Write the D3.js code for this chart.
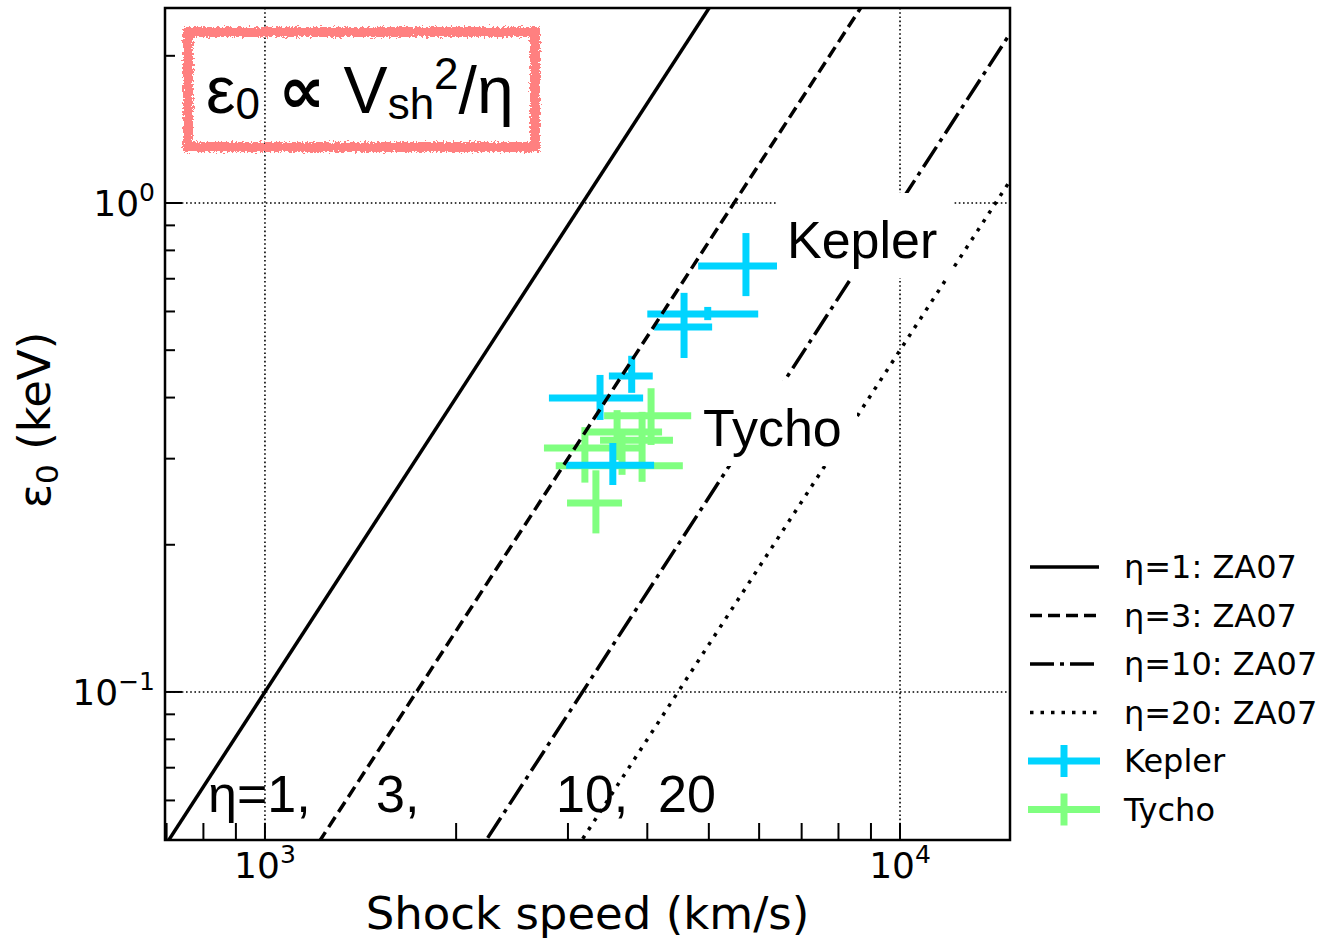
<!DOCTYPE html>
<html><head><meta charset="utf-8">
<script src="https://cdn.jsdelivr.net/npm/d3@7"></script>
<style>body{margin:0;background:#fff}</style>
</head><body><svg id="c" width="1321" height="940"></svg>
<script>
// ---------- data ----------
const etaValues = [1, 3, 10, 20];
const etaLabels = ["η=1: ZA07", "η=3: ZA07", "η=10: ZA07", "η=20: ZA07"];
const eps0At1000 = 0.1;            // keV at V=1000 km/s for eta=1 (ZA07 scaling)
const lineV = [500, 20000];        // line sampling range (km/s)

const keplerV   = [5720, 4570, 4980, 3780, 3370, 3530];
const keplerVlo = [4810, 4100, 4000, 3480, 2800, 2980];
const keplerVhi = [6430, 5060, 5980, 4080, 3940, 4100];
const keplerE   = [0.743, 0.558, 0.593, 0.443, 0.399, 0.291];
const keplerElo = [0.645, 0.482, 0.576, 0.409, 0.360, 0.265];
const keplerEhi = [0.868, 0.655, 0.613, 0.487, 0.445, 0.323];

const tychoV   = [3320, 3190, 3650, 4055, 3585, 3925];
const tychoVlo = [2990, 2750, 2870, 3420, 3215, 3370];
const tychoVhi = [3650, 3900, 4550, 4690, 4220, 4390];
const tychoE   = [0.2435, 0.3155, 0.290, 0.367, 0.340, 0.327];
const tychoElo = [0.211, 0.268, 0.278, 0.320, 0.298, 0.269];
const tychoEhi = [0.284, 0.348, 0.343, 0.418, 0.377, 0.374];

const xDomain = [696, 14900];
const yDomain = [0.0498, 2.505];
const xMajor = [1000, 10000];
const xMajorLabels = [["10","3"],["10","4"]];
const yMajor = [1, 0.1];
const yMajorLabels = [["10","0"],["10","−1"]];
const xMinor = [700,800,900,2000,3000,4000,5000,6000,7000,8000,9000];
const yMinor = [0.06,0.07,0.08,0.09,0.2,0.3,0.4,0.5,0.6,0.7,0.8,0.9,2];

// ---------- styles ----------
const dashes = ["none", "12,6", "24,6,4,6", "3.5,7"];
const cKepler = "#00d4ff", cTycho = "#80ff80";
const M = {l:165, r:1010, t:8, b:840};

const svg = d3.select("#c");
const x = d3.scaleLog().domain(xDomain).range([M.l, M.r]);
const y = d3.scaleLog().domain(yDomain).range([M.b, M.t]);

svg.append("defs").html(`
 <clipPath id="clip"><rect x="${M.l}" y="${M.t}" width="${M.r-M.l}" height="${M.b-M.t}"/></clipPath>
 <filter id="rough" x="-5%" y="-10%" width="110%" height="120%">
   <feTurbulence type="fractalNoise" baseFrequency="0.45" numOctaves="2" seed="3" result="n"/>
   <feDisplacementMap in="SourceGraphic" in2="n" scale="7" xChannelSelector="R" yChannelSelector="G"/>
 </filter>`);

// grid
const g = svg.append("g");
xMajor.forEach(v => g.append("line").attr("x1",x(v)).attr("x2",x(v)).attr("y1",M.t).attr("y2",M.b)
  .attr("stroke","#000").attr("stroke-width",1.6).attr("stroke-dasharray","1.6,2.6"));
yMajor.forEach(v => g.append("line").attr("y1",y(v)).attr("y2",y(v)).attr("x1",M.l).attr("x2",M.r)
  .attr("stroke","#000").attr("stroke-width",1.6).attr("stroke-dasharray","1.6,2.6"));

// error bars
function errbars(V, Vlo, Vhi, E, Elo, Ehi, color) {
  const gg = svg.append("g").attr("clip-path","url(#clip)").attr("stroke",color).attr("stroke-width",7);
  V.forEach((v,i) => {
    gg.append("line").attr("x1",x(Vlo[i])).attr("x2",x(Vhi[i])).attr("y1",y(E[i])).attr("y2",y(E[i]));
    gg.append("line").attr("x1",x(v)).attr("x2",x(v)).attr("y1",y(Elo[i])).attr("y2",y(Ehi[i]));
  });
}
errbars(tychoV, tychoVlo, tychoVhi, tychoE, tychoElo, tychoEhi, cTycho);
errbars(keplerV, keplerVlo, keplerVhi, keplerE, keplerElo, keplerEhi, cKepler);

// model lines
const lg = svg.append("g").attr("clip-path","url(#clip)");
etaValues.forEach((eta,i) => {
  const f = v => eps0At1000 * (v/1000)*(v/1000) / eta;
  lg.append("line").attr("x1",x(lineV[0])).attr("y1",y(f(lineV[0])))
    .attr("x2",x(lineV[1])).attr("y2",y(f(lineV[1])))
    .attr("stroke","#000").attr("stroke-width",3.5).attr("stroke-dasharray",dashes[i]);
});

// labelled boxes
function boxLabel(txt, xl, yb, w) {
  const gg = svg.append("g");
  gg.append("rect").attr("x",xl-10).attr("y",yb-65).attr("width",w).attr("height",85).attr("fill","#fff");
  gg.append("text").attr("x",xl).attr("y",yb).attr("font-family","Liberation Sans, Arial, sans-serif")
    .attr("font-size",52).text(txt);
}
boxLabel("Kepler", 787, 258, 175);
boxLabel("Tycho", 703, 446, 164);

// eta labels along bottom
const etaText = [["η=1,",208],["3,",376],["10,",556],["20",658]];
etaText.forEach(([t,px]) => svg.append("text").attr("x",px).attr("y",812)
  .attr("font-family","Liberation Sans, Arial, sans-serif").attr("font-size",52).text(t));

// formula box
svg.append("rect").attr("x",188).attr("y",32).attr("width",347).attr("height",115)
  .attr("fill","none").attr("stroke","#ff8080").attr("stroke-width",10).attr("filter","url(#rough)");
const ft = svg.append("text").attr("x",206).attr("y",113)
  .attr("font-family","Liberation Sans, Arial, sans-serif").attr("font-size",66);
ft.append("tspan").text("ε");
ft.append("tspan").attr("font-size",44).attr("dy",6).text("0");
ft.append("tspan").attr("dy",-6).text(" ");
ft.append("tspan").attr("font-family","Noto Sans, DejaVu Sans, sans-serif").attr("font-weight","bold").text("∝");
ft.append("tspan").text(" V");
ft.append("tspan").attr("font-size",44).attr("dy",6).text("sh");
ft.append("tspan").attr("font-size",44).attr("dy",-30).text("2");
ft.append("tspan").attr("dy",24).text("/η");

// spines
svg.append("rect").attr("x",M.l).attr("y",M.t).attr("width",M.r-M.l).attr("height",M.b-M.t)
  .attr("fill","none").attr("stroke","#000").attr("stroke-width",2.5);

// ticks
const tk = svg.append("g").attr("stroke","#000").attr("stroke-width",2);
xMajor.concat(xMinor).forEach(v => tk.append("line").attr("x1",x(v)).attr("x2",x(v)).attr("y1",M.b).attr("y2",M.b-17));
yMajor.forEach(v => tk.append("line").attr("y1",y(v)).attr("y2",y(v)).attr("x1",M.l).attr("x2",M.l+17));
yMinor.forEach(v => tk.append("line").attr("y1",y(v)).attr("y2",y(v)).attr("x1",M.l).attr("x2",M.l+10));

const font = "DejaVu Sans, sans-serif";
xMajor.forEach((v,i) => {
  const t = svg.append("text").attr("x",x(v)).attr("y",878).attr("text-anchor","middle")
    .attr("font-family",font).attr("font-size",36);
  t.append("tspan").text(xMajorLabels[i][0]);
  t.append("tspan").attr("font-size",25).attr("dy",-15).text(xMajorLabels[i][1]);
});
yMajor.forEach((v,i) => {
  const t = svg.append("text").attr("x",155).attr("y",y(v)+13).attr("text-anchor","end")
    .attr("font-family",font).attr("font-size",36);
  t.append("tspan").text(yMajorLabels[i][0]);
  t.append("tspan").attr("font-size",25).attr("dy",-15).text(yMajorLabels[i][1]);
});

// axis labels
svg.append("text").attr("x",(M.l+M.r)/2).attr("y",929).attr("text-anchor","middle")
  .attr("font-family",font).attr("font-size",45).text("Shock speed (km/s)");
const yl = svg.append("text").attr("transform",`translate(50,${(M.t+M.b)/2 - 4}) rotate(-90)`)
  .attr("text-anchor","middle").attr("font-family",font).attr("font-size",45);
yl.append("tspan").text("ε");
yl.append("tspan").attr("font-size",31).attr("dy",8).text("0");
yl.append("tspan").attr("dy",-8).text(" (keV)");

// legend
const legY0 = 567, legDy = 48.5;
etaValues.forEach((eta,i) => {
  const yy = legY0 + i*legDy;
  svg.append("line").attr("x1",1030).attr("x2",1099).attr("y1",yy).attr("y2",yy)
    .attr("stroke","#000").attr("stroke-width",3.5).attr("stroke-dasharray",dashes[i]);
  svg.append("text").attr("x",1124).attr("y",yy+11).attr("font-family",font).attr("font-size",32).text(etaLabels[i]);
});
[["Kepler",cKepler],["Tycho",cTycho]].forEach(([n,c],j) => {
  const yy = legY0 + (4+j)*legDy;
  svg.append("line").attr("x1",1028).attr("x2",1100).attr("y1",yy).attr("y2",yy).attr("stroke",c).attr("stroke-width",7);
  svg.append("line").attr("x1",1064).attr("x2",1064).attr("y1",yy-16).attr("y2",yy+16).attr("stroke",c).attr("stroke-width",7);
  svg.append("text").attr("x",1124).attr("y",yy+11).attr("font-family",font).attr("font-size",32).text(n);
});
</script></body></html>
